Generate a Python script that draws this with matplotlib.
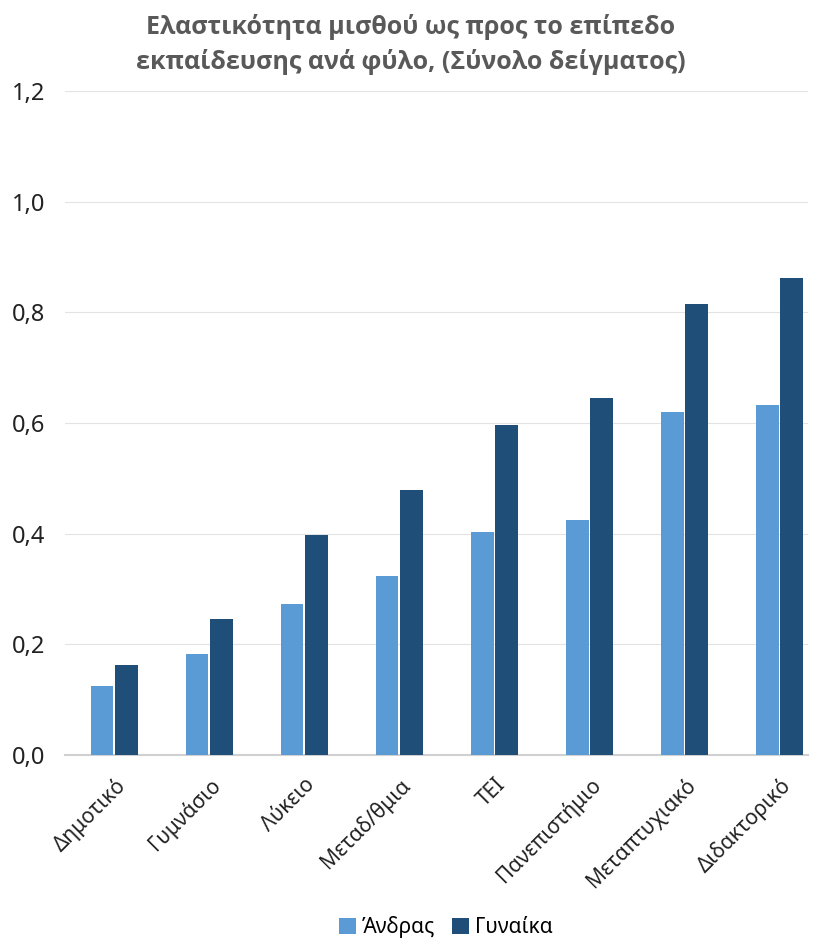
import numpy as np
import matplotlib.pyplot as plt
from matplotlib.ticker import FuncFormatter

plt.rcParams['font.family'] = ['Noto Sans', 'DejaVu Sans']

categories = ['Δημοτικό', 'Γυμνάσιο', 'Λύκειο', 'Μεταδ/θμια', 'ΤΕΙ',
              'Πανεπιστήμιο', 'Μεταπτυχιακό', 'Διδακτορικό']
men = [0.125, 0.183, 0.273, 0.324, 0.403, 0.425, 0.620, 0.633]
women = [0.163, 0.246, 0.398, 0.479, 0.596, 0.645, 0.815, 0.862]
series_names = ['Άνδρας', 'Γυναίκα']
colors = ['#5b9bd5', '#1f4e79']

fig = plt.figure(figsize=(8.21, 9.38), dpi=100)
ax = fig.add_axes([65 / 821, 183 / 938, 743 / 821, 664 / 938])

x = np.arange(len(categories))
w = 0.24
ax.bar(x - w / 2 - 0.01, men, w, color=colors[0], label=series_names[0], zorder=3)
ax.bar(x + w / 2 + 0.01, women, w, color=colors[1], label=series_names[1], zorder=3)

ax.set_ylim(0, 1.2)
ax.set_xlim(-0.52, len(categories) - 0.7)
ax.set_yticks(np.arange(0, 1.21, 0.2))
ax.yaxis.set_major_formatter(FuncFormatter(lambda v, p: f'{v:.1f}'.replace('.', ',')))
ax.grid(axis='y', color='#e3e3e3', lw=0.8, zorder=0)
for s in ['top', 'right', 'left']:
    ax.spines[s].set_visible(False)
ax.spines['bottom'].set_color('#d0d0d0')
ax.spines['bottom'].set_linewidth(1.5)
ax.tick_params(axis='both', length=0, labelsize=15, colors='#222222')
ax.tick_params(axis='y', pad=14, labelsize=17)

ax.set_xticks(x)
ax.set_xticklabels(categories, rotation=45, ha='right', rotation_mode='anchor')
ax.tick_params(axis='x', pad=14)

fig.suptitle('Ελαστικότητα μισθού ως προς το επίπεδο\nεκπαίδευσης ανά φύλο, (Σύνολο δείγματος)',
             fontsize=18, fontweight='bold', color='#595959', y=0.985, linespacing=1.45,
             family=['Open Sans', 'DejaVu Sans'])

fig.legend(loc='lower center', ncol=2, frameon=False, fontsize=15,
           bbox_to_anchor=(0.543, -0.02), handlelength=0.8, handleheight=0.8,
           handletextpad=0.3, columnspacing=0.8)

fig.savefig('out.png', dpi=100)
